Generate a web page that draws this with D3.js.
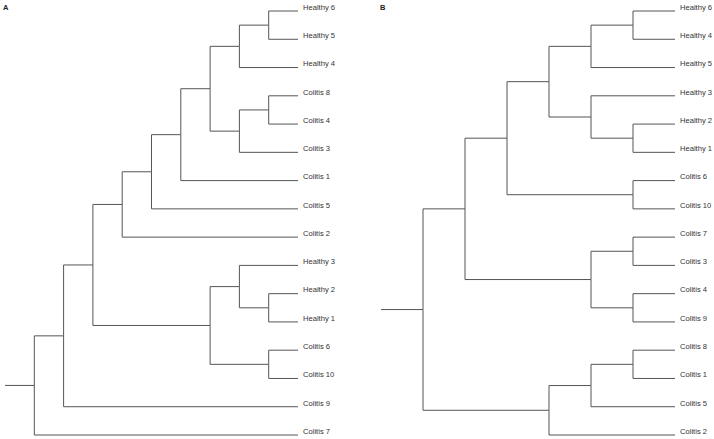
<!DOCTYPE html>
<html>
<head>
<meta charset="utf-8">
<script src="https://cdn.jsdelivr.net/npm/d3@7"></script>
<style>
  body { margin: 0; background: #fff; }
  svg { display: block; }
</style>
</head>
<body>
<div id="wrapper"></div>
<script>
// DATA: trees as nested pairs, leaves are sample names
const panelLabels = ["A", "B"]

// panel A
const a_healthy456 = [["Healthy 6", "Healthy 5"], "Healthy 4"]
const a_colitis843 = [["Colitis 8", "Colitis 4"], "Colitis 3"]
const a_mixed = [["Healthy 3", ["Healthy 2", "Healthy 1"]], ["Colitis 6", "Colitis 10"]]
const treeA = [[[[[[[a_healthy456, a_colitis843], "Colitis 1"], "Colitis 5"], "Colitis 2"], a_mixed], "Colitis 9"], "Colitis 7"]

// panel B
const b_healthy = [[["Healthy 6", "Healthy 4"], "Healthy 5"], ["Healthy 3", ["Healthy 2", "Healthy 1"]]]
const b_colitis7349 = [["Colitis 7", "Colitis 3"], ["Colitis 4", "Colitis 9"]]
const b_colitis8152 = [[["Colitis 8", "Colitis 1"], "Colitis 5"], "Colitis 2"]
const treeB = [[[b_healthy, ["Colitis 6", "Colitis 10"]], b_colitis7349], b_colitis8152]

// 1. DIMENSIONS
const dimensions = {
  width: 714,
  height: 439,
  leafTop: 11,
  leafBottom: 435,
}

const panels = [
  { label: panelLabels[0], tree: treeA, stemX: 5, leafX: 298, labelX: 3 },
  { label: panelLabels[1], tree: treeB, stemX: 381, leafX: 675, labelX: 380 },
]

// 2. CANVAS
const wrapper = d3.select("#wrapper")
  .append("svg")
  .attr("width", dimensions.width)
  .attr("height", dimensions.height)

const drawTree = panel => {
  const root = d3.hierarchy(panel.tree, d => Array.isArray(d) ? d : null)
  const levels = root.height // number of steps from root to leaves

  d3.cluster()
    .separation(() => 1)
    .size([1, 1])(root)

  const leaves = root.leaves()

  // 3. SCALES
  const yScale = d3.scaleLinear()
    .domain(d3.extent(leaves, d => d.x))
    .range([dimensions.leafTop, dimensions.leafBottom])

  // one extra step for the root stem
  const step = (panel.leafX - panel.stemX) / (levels + 1)
  const xScale = d3.scaleLinear()
    .domain([0, 1])
    .range([panel.stemX + step, panel.leafX])

  const g = wrapper.append("g")

  // 4. DRAW LINKS (elbows)
  g.append("g")
    .attr("fill", "none")
    .attr("stroke", "#555")
    .attr("stroke-width", 1)
    .selectAll("path")
    .data(root.links())
    .join("path")
      .attr("d", d => `M${xScale(d.source.y)},${yScale(d.source.x)}V${yScale(d.target.x)}H${xScale(d.target.y)}`)

  // root stem
  g.append("line")
    .attr("x1", panel.stemX)
    .attr("x2", xScale(root.y))
    .attr("y1", yScale(root.x))
    .attr("y2", yScale(root.x))
    .attr("stroke", "#555")

  // 5. LABELS
  g.append("g")
    .selectAll("text")
    .data(leaves)
    .join("text")
      .attr("x", d => xScale(d.y) + 5)
      .attr("y", d => yScale(d.x) - 1.2)
      .text(d => d.data)
      .style("font-family", "Liberation Sans, Arial, sans-serif")
      .style("font-size", "7.6px")
      .style("fill", "#333")

  g.append("text")
    .attr("x", panel.labelX)
    .attr("y", 9.5)
    .text(panel.label)
    .style("font-family", "Liberation Sans, Arial, sans-serif")
    .style("font-size", "7.5px")
    .style("font-weight", "bold")
    .style("fill", "#222")
}

panels.forEach(drawTree)
</script>
</body>
</html>
